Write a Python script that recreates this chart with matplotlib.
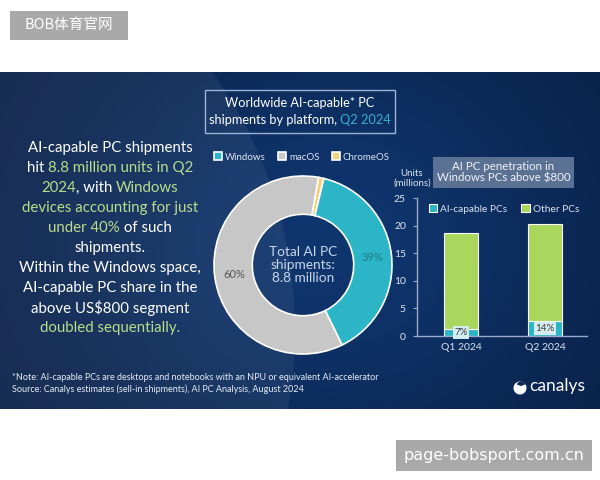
import numpy as np
import matplotlib
matplotlib.use("Agg")
import matplotlib.pyplot as plt
from matplotlib.patches import Rectangle, Circle, Wedge

plt.rcParams['font.family'] = ['Lato', 'DejaVu Sans']

# --- data ---
platforms = ['Windows', 'macOS', 'ChromeOS']
shares = [39, 60, 1]                 # % of AI-capable PC shipments, Q2 2024
pie_order = [2, 0, 1]                # clockwise from top: ChromeOS, Windows, macOS
quarters = ['Q1 2024', 'Q2 2024']
ai_pcs = [1.3, 2.8]                  # millions, Windows PCs above $800
other_pcs = [17.4, 17.5]
yticks = [0, 5, 10, 15, 20, 25]

WHITE = '#ffffff'
HL = '#b9dd8c'
TEAL = '#2bb5c6'
GRAY = '#c7c7c7'
YELLOW = '#f2d27a'
GREEN = '#a9d65d'
LIGHT = '#dde4f0'

fig = plt.figure(figsize=(6, 4.8), dpi=100)
bg = fig.add_axes([0, 0, 1, 1])
bg.axis('off')

# background panel with soft gradient
W, H = 600, 337
xx, yy = np.meshgrid(np.arange(W), np.arange(H) + 72)
wgt = np.exp(-((xx - 330) / 260.0) ** 2 - ((yy - 240) / 230.0) ** 2)
dark = np.array([0.035, 0.12, 0.27])
light = np.array([0.06, 0.21, 0.43])
img = dark[None, None, :] * (1 - wgt[..., None]) + light[None, None, :] * wgt[..., None]
bg.imshow(img, extent=(0, 600, 409, 72), aspect='auto', zorder=0)
bg.set_xlim(0, 600)
bg.set_ylim(480, 0)

clip = Rectangle((0, 72), 600, 337, transform=bg.transData)
arc = Circle((-150, 330), 445, fc='white', alpha=0.06, ec='none', zorder=1)
bg.add_patch(arc)
arc.set_clip_path(clip)

renderer = fig.canvas.get_renderer()


def text_width(s, **kw):
    t = bg.text(0, 0, s, **kw)
    w = t.get_window_extent(renderer).width
    t.remove()
    return w


def colored_line(xc, y, parts, size):
    full = ''.join(p for p, _ in parts)
    total = text_width(full, fontsize=size)
    bar_w = text_width('|', fontsize=size)
    x0 = xc - total / 2
    prefix = ''
    for s, c in parts:
        off = 0 if prefix == '' else text_width(prefix + '|', fontsize=size) - bar_w
        bg.text(x0 + off, y, s, color=c, fontsize=size, ha='left', va='center', zorder=5)
        prefix += s


left_lines = [
    [('AI-capable PC shipments', WHITE)],
    [('hit ', WHITE), ('8.8 million units in Q2', HL)],
    [('2024', HL), (', with ', WHITE), ('Windows', HL)],
    [('devices accounting for just', HL)],
    [('under 40%', HL), (' of such', WHITE)],
    [('shipments.', WHITE)],
    [('Within the Windows space,', WHITE)],
    [('AI-capable PC share in the', WHITE)],
    [('above US$800 segment', WHITE)],
    [('doubled sequentially.', HL)],
]
for i, parts in enumerate(left_lines):
    colored_line(110, 148 + 20 * i, parts, 10.8)

# donut title box
bg.add_patch(Rectangle((205, 90), 190, 43, fill=False, ec='#9fb3d6', lw=1, zorder=4))
bg.text(300, 103, 'Worldwide AI-capable* PC', color=WHITE, fontsize=9.2,
        ha='center', va='center', zorder=5)
colored_line(300, 120, [('shipments by platform, ', WHITE), ('Q2 2024', '#3aaed0')], 9.2)

# --- donut ---
pax = fig.add_axes([(303 - 89) / 600, (480 - 265 - 89) / 480, 178 / 600, 178 / 480])
pie_colors = {'Windows': TEAL, 'macOS': GRAY, 'ChromeOS': YELLOW}
wedges, _ = pax.pie([shares[i] for i in pie_order],
                    colors=[pie_colors[platforms[i]] for i in pie_order],
                    startangle=80, counterclock=False, radius=1,
                    wedgeprops=dict(width=0.43, edgecolor='white', linewidth=1.2, clip_on=False))
pax.set_xlim(-1, 1)
pax.set_ylim(-1, 1)
pax.set_aspect('equal')
label_colors = {'Windows': '#1f7c86', 'macOS': '#555555'}
for w, i in zip(wedges, pie_order):
    name = platforms[i]
    if name in label_colors:
        ang = np.deg2rad((w.theta1 + w.theta2) / 2)
        pax.text(0.785 * np.cos(ang), 0.785 * np.sin(ang), f'{shares[i]}%',
                 color=label_colors[name], fontsize=8, ha='center', va='center')
pax.text(0, 0, 'Total AI PC\nshipments:\n8.8 million', color='#c9d6ec', fontsize=9.8,
         ha='center', va='center', linespacing=1.05)

handles = [wedges[pie_order.index(i)] for i in range(len(platforms))]
fig.legend(handles, platforms, loc='center', bbox_to_anchor=(302 / 600, 1 - 157 / 480),
           ncol=3, frameon=False, fontsize=7, labelcolor=LIGHT, handlelength=0.8,
           handleheight=0.8, handletextpad=0.3, columnspacing=1.3, borderpad=0)

# --- bar chart ---
bax = fig.add_axes([417 / 600, 144 / 480, 170 / 600, 138 / 480])
bax.patch.set_visible(False)
xpos = np.arange(len(quarters))
b1 = bax.bar(xpos, ai_pcs, width=0.405, color=TEAL, edgecolor='white', linewidth=0.8,
             label='AI-capable PCs')
b2 = bax.bar(xpos, other_pcs, width=0.405, bottom=ai_pcs, color=GREEN, edgecolor='white',
             linewidth=0.8, label='Other PCs')
bax.set_xlim(-0.524, 1.50)
bax.set_ylim(0, 25)
bax.set_yticks(yticks)
bax.set_xticks(xpos)
bax.set_xticklabels(quarters)
for s in ['top', 'right']:
    bax.spines[s].set_visible(False)
for s in ['left', 'bottom']:
    bax.spines[s].set_color('#9aaacb')
    bax.spines[s].set_linewidth(1)
bax.tick_params(axis='y', colors='#9aaacb', labelcolor=LIGHT, labelsize=7.5, length=3, pad=5)
bax.tick_params(axis='x', length=0, labelcolor=LIGHT, labelsize=7.5, pad=5)
for xi, a, o in zip(xpos, ai_pcs, other_pcs):
    pct = round(100 * a / (a + o))
    bax.text(xi, a / 2, f'{pct}%', color='#3a3a3a', fontsize=7, ha='center', va='center',
             bbox=dict(boxstyle='square,pad=0.18', fc='#d5edf0', ec='none'))

fig.legend([b1, b2], ['AI-capable PCs', 'Other PCs'], loc='center',
           bbox_to_anchor=(504 / 600, 1 - 209 / 480), ncol=2, frameon=False, fontsize=7.3,
           labelcolor=LIGHT, handlelength=0.8, handleheight=0.8, handletextpad=0.3,
           columnspacing=1.4, borderpad=0)

bg.add_patch(Rectangle((433, 157), 141, 31, fc='#5b7194', ec='none', zorder=4))
bg.text(503.5, 172.5, 'AI PC penetration in\nWindows PCs above $800', color='#f2f4f8',
        fontsize=8.3, ha='center', va='center', linespacing=1.1, zorder=5)
bg.text(412, 178, 'Units\n(millions)', color=LIGHT, fontsize=7, ha='center', va='center',
        linespacing=1.1, zorder=5)

# footnotes
bg.text(12, 377, '*Note: AI-capable PCs are desktops and notebooks with an NPU or equivalent AI-accelerator',
        color='#e6ecf5', fontsize=6.5, ha='left', va='center', zorder=5)
bg.text(12, 389.5, 'Source: Canalys estimates (sell-in shipments), AI PC Analysis, August 2024',
        color='#e6ecf5', fontsize=6.5, ha='left', va='center', zorder=5)

# canalys logo
bg.add_patch(Wedge((520, 388), 6.5, 0, 360, fc='white', ec='none', zorder=5))
bg.add_patch(Wedge((521, 386), 4.5, 200, 340, fc='#0c2856', ec='none', zorder=6))
bg.text(529, 386, 'canalys', color='white', fontsize=12.5, ha='left', va='center', zorder=5)

# watermarks
bg.add_patch(Rectangle((10, 11), 118, 29, fc='#a9a9a9', ec='none', zorder=4))
bg.text(69, 25.5, 'BOB体育官网', color='white', fontsize=10.5, ha='center', va='center',
        family=['Noto Sans CJK SC', 'DejaVu Sans'], zorder=5)
bg.add_patch(Rectangle((396, 440), 196, 31, fc='#a9a9a9', ec='none', zorder=4))
bg.text(494, 455.5, 'page-bobsport.com.cn', color='white', fontsize=11.5, ha='center',
        va='center', family=['DejaVu Sans'], zorder=5)

fig.savefig('out.png', dpi=100)
